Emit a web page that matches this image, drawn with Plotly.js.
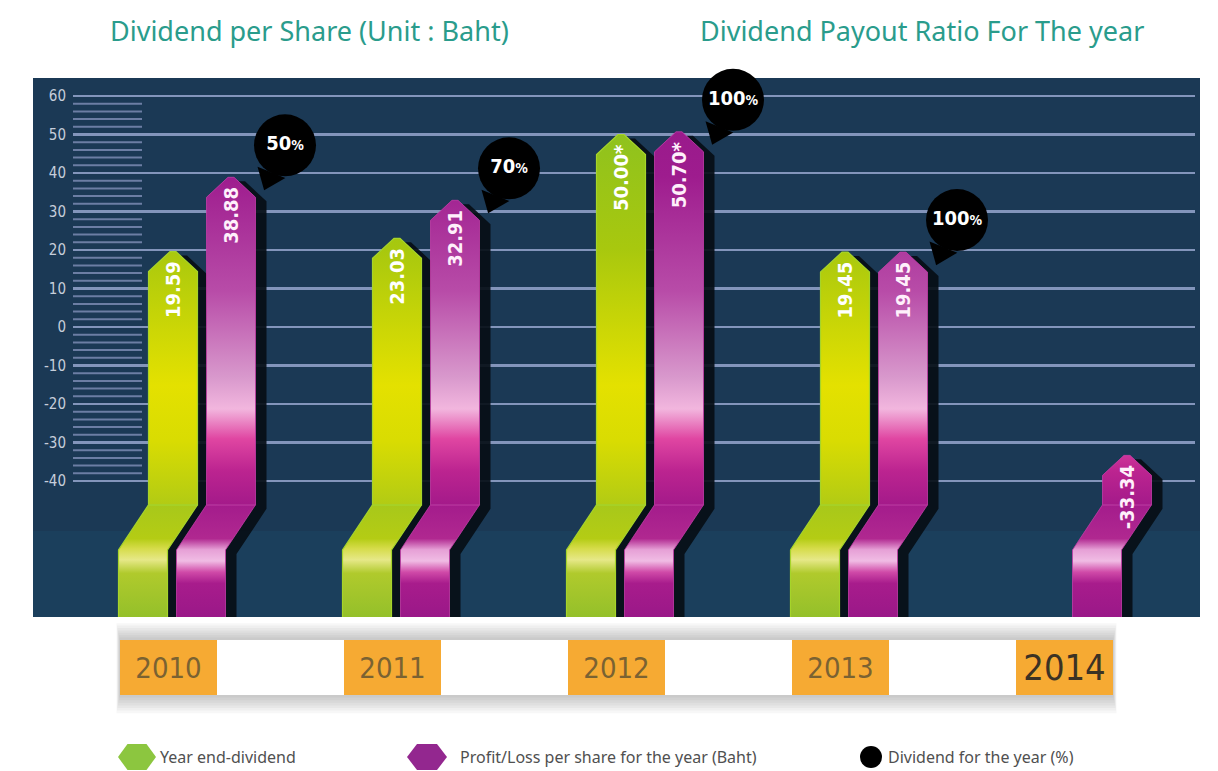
<!DOCTYPE html>
<html>
<head>
<meta charset="utf-8">
<script src="https://cdn.plot.ly/plotly-3.0.1.min.js"></script>
<style>
  html, body { margin: 0; padding: 0; background: #ffffff; }
  #chart { width: 1218px; height: 771px; }
</style>
</head>
<body>
<div id="chart"></div>
<script>
// ---------------- data ----------------
const years = ['2010', '2011', '2012', '2013', '2014'];
const yearEndDividend = [19.59, 23.03, 50.00, 19.45, null];
const profitPerShare = [38.88, 32.91, 50.70, 19.45, -33.34];
const payoutRatio = [50, 70, 100, 100, null];
const dividendLabels = ['19.59', '23.03', '50.00*', '19.45', ''];
const profitLabels = ['38.88', '32.91', '50.70*', '19.45', '-33.34'];
const yTicks = [60, 50, 40, 30, 20, 10, 0, -10, -20, -30, -40];
const legendNames = ['Year end-dividend', 'Profit/Loss per share for the year (Baht)', 'Dividend for the year (%)'];

// ---------------- geometry helpers (pixel -> axis units) ----------------
const PLOT_L = 73, PLOT_R = 1195, PLOT_T = 78, PLOT_B = 617;
const PW = PLOT_R - PLOT_L, PH = PLOT_B - PLOT_T;
const PXU = 1 / 224;          // x units per pixel
const PYU = 1 / 3.85;         // y units per pixel
const X_RANGE = [(PLOT_L - 202) / 224, (PLOT_R - 202) / 224];
const Y_MAX = 60 + 18 * PYU;
const Y_MIN = Y_MAX - PH * PYU;
const SH_Y = -46.2, SLANT_Y = -57.9;
const HALF_W = 24.5 * PXU, SHIFT = 30 * PXU, TIP = 3 * PXU, SHOULDER = 20 * PYU;
const px2pX = p => (p - PLOT_L) / PW;
const px2pY = p => (PLOT_B - p) / PH;

function upperPoly(cx, v) {
  const l = cx - HALF_W, r = cx + HALF_W, s = v - SHOULDER;
  return [[l, SH_Y], [l, s], [cx - TIP, v], [cx + TIP, v], [r, s], [r, SH_Y], [l, SH_Y]];
}
function lowerPoly(cx) {
  const l = cx - HALF_W, r = cx + HALF_W;
  return [[l, SH_Y], [r, SH_Y], [r - SHIFT, SLANT_Y], [r - SHIFT, Y_MIN - 5], [l - SHIFT, Y_MIN - 5], [l - SHIFT, SLANT_Y], [l, SH_Y]];
}
function fullPoly(cx, v) {
  const l = cx - HALF_W, r = cx + HALF_W, s = v - SHOULDER;
  return [[l, s], [cx - TIP, v], [cx + TIP, v], [r, s], [r, SH_Y], [r - SHIFT, SLANT_Y], [r - SHIFT, Y_MIN - 5],
          [l - SHIFT, Y_MIN - 5], [l - SHIFT, SLANT_Y], [l, SH_Y], [l, s]];
}
function collect(polys, dx, dy) {
  const xs = [], ys = [];
  polys.forEach(p => { p.forEach(pt => { xs.push(pt[0] + dx); ys.push(pt[1] + dy); }); xs.push(null); ys.push(null); });
  return { x: xs, y: ys };
}

const gCx = years.map((_, i) => i - 29 * PXU);
const mCx = years.map((_, i) => i + 29 * PXU);

const gUpper = [], gLower = [], mUpper = [], mLower = [], shadows = [];
years.forEach((_, i) => {
  if (yearEndDividend[i] !== null) {
    gUpper.push(upperPoly(gCx[i], yearEndDividend[i]));
    gLower.push(lowerPoly(gCx[i]));
    shadows.push(fullPoly(gCx[i], yearEndDividend[i]));
  }
  if (profitPerShare[i] !== null) {
    mUpper.push(upperPoly(mCx[i], profitPerShare[i]));
    mLower.push(lowerPoly(mCx[i]));
    shadows.push(fullPoly(mCx[i], profitPerShare[i]));
  }
});

const greenUpperScale = [[0, '#b2cb14'], [0.15, '#d9dc02'], [0.28, '#e4e100'], [0.42, '#cad606'], [0.6, '#a8c80e'], [0.87, '#8fc21e'], [1, '#8cc020']];
const magUpperScale = [[0, '#a41a8a'], [0.08, '#bc2490'], [0.155, '#e046a2'], [0.225, '#f2b6de'], [0.3, '#d898cc'], [0.5, '#b84ca8'], [0.77, '#9e1c8e'], [1, '#941888']];
const greenLowerScale = [[0, '#94c02a'], [0.39, '#b0ca2c'], [0.51, '#e6e888'], [0.61, '#d6dc4a'], [0.7, '#b4cc14'], [1, '#a8c81a']];
const magLowerScale = [[0, '#9a1888'], [0.3, '#a81c8c'], [0.4, '#d04aa8'], [0.5, '#f0bce4'], [0.6, '#e6a0d6'], [0.7, '#b02890'], [1, '#a41c8c']];

function polyTrace(polys, dx, dy, extra) {
  const c = collect(polys, dx, dy);
  return Object.assign({ type: 'scatter', mode: 'lines', x: c.x, y: c.y, fill: 'toself', hoverinfo: 'skip', showlegend: false }, extra);
}

const traces = [];
traces.push(polyTrace(shadows, 11 * PXU, -4 * PYU, { line: { width: 0, color: 'rgba(0,0,0,0)' }, fillcolor: 'rgba(6,14,22,0.92)' }));
traces.push(polyTrace(gLower, 0, 0, { line: { width: 1.2, color: '#a6d42a' },
  fillgradient: { type: 'vertical', colorscale: greenLowerScale, start: Y_MIN, stop: SH_Y } }));
traces.push(polyTrace(mLower, 0, 0, { line: { width: 0.8, color: '#c43ca8' },
  fillgradient: { type: 'vertical', colorscale: magLowerScale, start: Y_MIN, stop: SH_Y } }));
traces.push(polyTrace(gUpper, 0, 0, { line: { width: 1.2, color: '#a6d42a' },
  fillgradient: { type: 'vertical', colorscale: greenUpperScale, start: SH_Y, stop: Y_MAX } }));
traces.push(polyTrace(mUpper, 0, 0, { line: { width: 0.8, color: '#c43ca8' },
  fillgradient: { type: 'vertical', colorscale: magUpperScale, start: SH_Y, stop: Y_MAX } }));

// payout bubbles
const bx = [], by = [], btxt = [], tx = [], ty = [];
years.forEach((_, i) => {
  if (payoutRatio[i] !== null) {
    const x = mCx[i] + 54 * PXU, y = profitPerShare[i] + 32 * PYU;
    bx.push(x); by.push(y);
    btxt.push(payoutRatio[i] + '<span style="font-size:14px">%</span>');
    tx.push(x - 16 * PXU); ty.push(y - 33 * PYU);
  }
});
traces.push({ type: 'scatter', mode: 'markers', x: tx, y: ty, hoverinfo: 'skip', showlegend: false,
  marker: { symbol: 'triangle-down', size: 26, color: '#000000', angle: 22, line: { width: 0 } } });
traces.push({ type: 'scatter', mode: 'markers+text', x: bx, y: by, text: btxt, textposition: 'middle center',
  hoverinfo: 'skip', showlegend: false, cliponaxis: false,
  textfont: { family: 'DejaVu Sans Condensed, DejaVu Sans, sans-serif', size: 20, color: '#ffffff', weight: 'bold' },
  marker: { symbol: 'circle', size: 62, color: '#000000', line: { width: 0 } } });

// ---------------- shapes ----------------
const shapes = [];
// dark panel
shapes.push({ type: 'rect', xref: 'paper', yref: 'paper', x0: px2pX(33), x1: px2pX(1200), y0: 0, y1: px2pY(PLOT_T),
  fillcolor: '#1b3955', line: { width: 0 }, layer: 'below' });
// floor band
shapes.push({ type: 'rect', xref: 'paper', yref: 'y', x0: px2pX(33), x1: px2pX(1200), y0: Y_MIN, y1: -53,
  fillcolor: '#1b3f5c', line: { width: 0 }, layer: 'below' });
// minor grid lines
for (let v = -40; v <= 60; v += 2) {
  if (v % 10 === 0) continue;
  shapes.push({ type: 'line', xref: 'paper', yref: 'y', x0: 0, x1: px2pX(142), y0: v, y1: v,
    line: { color: '#6c7ea4', width: 2 }, layer: 'below' });
}
// white year strip with soft shadow above / below
const STRIP_L = 120, STRIP_R = 1113;
for (let k = 7; k >= 1; k--) {
  shapes.push({ type: 'rect', xref: 'paper', yref: 'paper', x0: px2pX(STRIP_L - k * 0.5), x1: px2pX(STRIP_R + k * 0.5),
    y0: px2pY(695 + k * 2.6), y1: px2pY(640 - k * 2.4),
    fillcolor: 'rgba(0,0,0,0.032)', line: { width: 0 }, layer: 'below' });
}
shapes.push({ type: 'rect', xref: 'paper', yref: 'paper', x0: px2pX(STRIP_L), x1: px2pX(STRIP_R), y0: px2pY(695), y1: px2pY(640),
  fillcolor: '#ffffff', line: { width: 0 }, layer: 'below' });

// legend icons
function hexPath(cxp, cyp, w, h) {
  const pts = [[cxp - w / 2, cyp], [cxp - w / 4, cyp - h / 2], [cxp + w / 4, cyp - h / 2], [cxp + w / 2, cyp], [cxp + w / 4, cyp + h / 2], [cxp - w / 4, cyp + h / 2]];
  return 'M' + pts.map(p => px2pX(p[0]) + ',' + px2pY(p[1])).join(' L') + ' Z';
}
shapes.push({ type: 'path', xref: 'paper', yref: 'paper', path: hexPath(137, 757, 38, 26), fillcolor: '#8cc63f', line: { width: 0 } });
shapes.push({ type: 'path', xref: 'paper', yref: 'paper', path: hexPath(427, 757, 40, 26), fillcolor: '#93278f', line: { width: 0 } });
shapes.push({ type: 'circle', xref: 'paper', yref: 'paper', x0: px2pX(860), x1: px2pX(882), y0: px2pY(768), y1: px2pY(746),
  fillcolor: '#000000', line: { width: 0 } });

// ---------------- annotations ----------------
const annotations = [];
const titleFont = { family: '"Noto Sans", Lato, sans-serif', size: 27, color: '#2a9c8c' };
annotations.push({ text: 'Dividend per Share (Unit : Baht)', xref: 'paper', yref: 'paper', x: px2pX(108), y: px2pY(31),
  xanchor: 'left', yanchor: 'middle', showarrow: false, font: titleFont });
annotations.push({ text: 'Dividend Payout Ratio For The year', xref: 'paper', yref: 'paper', x: px2pX(698), y: px2pY(31),
  xanchor: 'left', yanchor: 'middle', showarrow: false, font: titleFont });

const valFont = { family: 'DejaVu Sans Condensed, DejaVu Sans, sans-serif', size: 20, color: '#ffffff', weight: 'bold' };
years.forEach((_, i) => {
  if (yearEndDividend[i] !== null) {
    annotations.push({ text: dividendLabels[i], x: gCx[i], y: yearEndDividend[i], xref: 'x', yref: 'y', textangle: -90,
      xanchor: 'center', yanchor: 'top', yshift: -8, showarrow: false, font: valFont });
  }
  annotations.push({ text: profitLabels[i], x: mCx[i], y: profitPerShare[i], xref: 'x', yref: 'y', textangle: -90,
    xanchor: 'center', yanchor: 'top', yshift: -8, showarrow: false, font: Object.assign({}, valFont, { color: '#fff0fb' }) });
  const last = i === years.length - 1;
  annotations.push({ text: years[i], x: i - 34 * PXU, xref: 'x', yref: 'paper', y: px2pY(667), xanchor: 'center', yanchor: 'middle',
    showarrow: false, width: 97, height: 55, bgcolor: '#f6aa33', borderpad: 0, borderwidth: 0, valign: 'middle',
    font: { family: '"Liberation Sans Narrow", "DejaVu Sans Condensed", sans-serif', size: last ? 36 : 29, color: last ? '#3b3224' : '#7a6232' } });
});

const legFont = { family: '"Noto Sans", Lato, sans-serif', size: 16, color: '#505050' };
[[158, 0], [458, 1], [886, 2]].forEach(e => {
  annotations.push({ text: legendNames[e[1]], xref: 'paper', yref: 'paper', x: px2pX(e[0]), y: px2pY(757),
    xanchor: 'left', yanchor: 'middle', showarrow: false, font: legFont });
});

// ---------------- layout ----------------
const layout = {
  width: 1218, height: 771,
  margin: { l: PLOT_L, r: 1218 - PLOT_R, t: PLOT_T, b: 771 - PLOT_B, pad: 0 },
  paper_bgcolor: '#ffffff', plot_bgcolor: 'rgba(0,0,0,0)',
  showlegend: false,
  xaxis: { range: X_RANGE, showgrid: false, zeroline: false, showticklabels: false, showline: false, ticks: '', fixedrange: true },
  yaxis: { range: [Y_MIN, Y_MAX], tickmode: 'array', tickvals: yTicks, ticktext: yTicks.map(String),
    showgrid: true, gridcolor: '#8395bb', gridwidth: 2.5, zeroline: false, showline: false, ticks: '',
    ticklabelstandoff: 6, fixedrange: true,
    tickfont: { family: 'DejaVu Sans Condensed, DejaVu Sans, sans-serif', size: 15, color: '#c6cedb' } },
  shapes: shapes,
  annotations: annotations
};

Plotly.newPlot('chart', traces, layout, { displayModeBar: false, staticPlot: true });
</script>
</body>
</html>
